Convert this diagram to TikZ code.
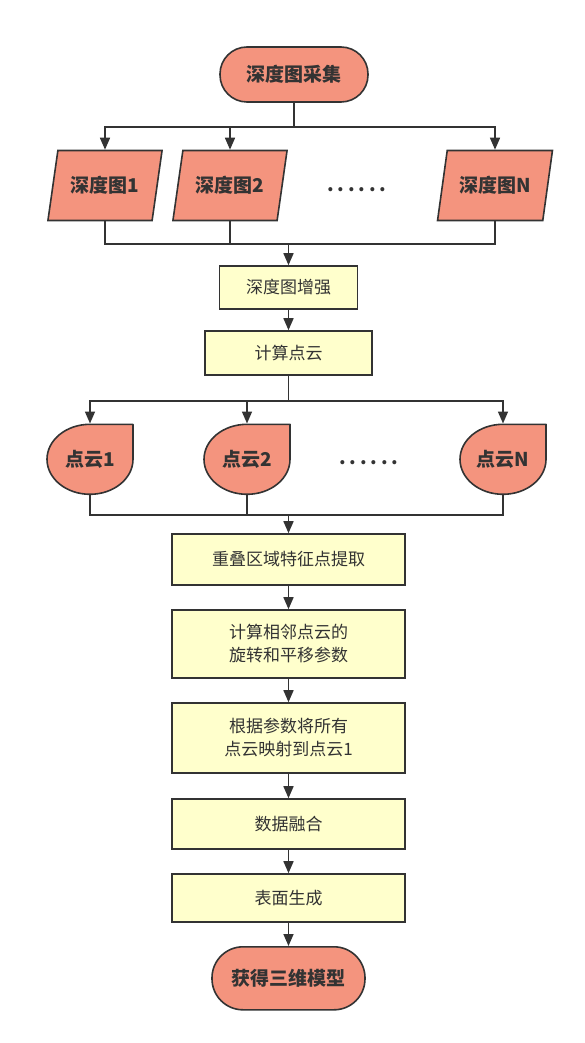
\documentclass[tikz,border=0pt]{standalone}
\usepackage{fontspec}
\newfontfamily\cjk{Noto Sans CJK SC}
\usetikzlibrary{arrows.meta,shapes.geometric}
\definecolor{salmon}{RGB}{244,148,126}
\definecolor{paleyel}{RGB}{255,255,204}
\definecolor{ink}{RGB}{51,51,51}

\begin{document}
\begin{tikzpicture}[x=1pt,y=1pt,line width=1.6pt,color=ink,
      >={Triangle[length=12pt,width=10pt]},
      every node/.style={inner sep=2pt,text=ink,font=\cjk\fontsize{17}{23}\selectfont},
      term/.style={draw,fill=salmon,rounded corners=27pt,minimum width=148pt,
         minimum height=55pt,font=\cjk\bfseries\fontsize{19}{23}\selectfont},
      para/.style={trapezium,trapezium left angle=71,trapezium right angle=109,
         trapezium stretches=true,draw,fill=salmon,minimum width=115pt,
         minimum height=70pt,font=\cjk\bfseries\fontsize{19}{23}\selectfont},
      cloudtext/.style={inner sep=0pt,minimum width=86pt,minimum height=70pt,
         font=\cjk\bfseries\fontsize{19}{23}\selectfont},
      cloudline/.style={draw,fill=salmon,line join=round},
      box/.style={draw,fill=paleyel,minimum width=233pt,align=center},
      gapdots/.style={font=\cjk\bfseries\fontsize{19}{19}\selectfont\addfontfeature{LetterSpace=20}}]
      \useasboundingbox(0,0)rectangle(584,-1043);
      \node[term](start)at(294,-74.5){深度图采集};
      \node[para](d1)at(105,-185.5){深度图1};
      \node[para](d2)at(230,-185.5){深度图2};
      \node[para](dn)at(495,-185.5){深度图N};
      \node[gapdots](gap1)at(357,-190){......};
      \node[box,minimum width=138pt,minimum height=43pt](enh)at(288.5,-287.5){深度图增强};
      \node[box,minimum width=167pt,minimum height=44pt](calc)at(288.5,-353){计算点云};
      \foreach \x/\t/\n in {90/1/c1,247/2/c2,503/N/cn}{
         \draw[cloudline](\x,-424.3)--++(43,0)--++(0,-35)arc(0:-180:43 and 35)
            arc(180:90:43 and 35)--cycle;
         \node[cloudtext](\n)at(\x,-459.3){点云\t};
      }
      \node[gapdots](gap2)at(369,-463){......};
      \node[box,minimum height=51pt](feat)at(288.5,-559.5){重叠区域特征点提取};
      \node[box,minimum height=68pt](rt)at(288.5,-644){计算相邻点云的\\旋转和平移参数};
      \node[box,minimum height=70pt](map)at(288.5,-738){根据参数将所有\\点云映射到点云1};
      \node[box,minimum height=50pt](fuse)at(288.5,-824){数据融合};
      \node[box,minimum height=48pt](surf)at(288.5,-898){表面生成};
      \node[term,minimum width=153pt,minimum height=63pt,rounded corners=31pt](model)
         at(288.5,-978.3){获得三维模型};
      \coordinate(s1)at(294,-127);
      \coordinate(m1)at(288.5,-244);
      \coordinate(s2)at(288.5,-401);
      \coordinate(m2)at(288.5,-515);
      \draw(start)--(s1);
      \foreach \n in {d1,d2,dn}{
         \draw[->](s1)-|(\n.north);
         \draw(\n.south)|-(m1);
      }
      \draw[->](m1)--(enh);
      \draw[->](enh)--(calc);
      \draw(calc)--(s2);
      \foreach \n in {c1,c2,cn}{
         \draw[->](s2)-|(\n.north);
         \draw(\n.south)|-(m2);
      }
      \draw[->](m2)--(feat);
      \foreach \a/\b in {feat/rt,rt/map,map/fuse,fuse/surf,surf/model}
         \draw[->](\a)--(\b);
    \end{tikzpicture}
\end{document}
